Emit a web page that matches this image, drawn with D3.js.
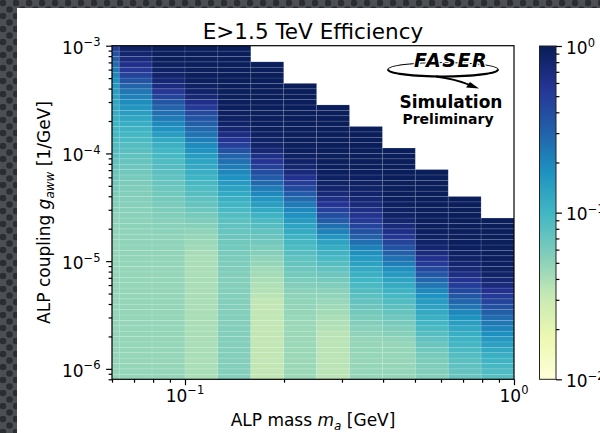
<!DOCTYPE html>
<html>
<head>
<meta charset="utf-8">
<script src="https://cdn.jsdelivr.net/npm/d3@7"></script>
<style>
  body { margin: 0; background: #45484d; }
  svg { display: block; }
  text { font-family: "DejaVu Sans", sans-serif; fill: #000; }
</style>
</head>
<body>
<svg id="chart" width="600" height="433"></svg>
<script>
// mass bin edges [GeV]
var massEdges = [0.0501, 0.0631, 0.0794, 0.1, 0.1259, 0.1585, 0.1995, 0.2512, 0.3162, 0.3981, 0.5012, 0.631, 0.7943, 1.0];
// log10 of coupling bin edges [1/GeV]
var logCouplingEdges = [-6.1, -6.05, -6.0, -5.95, -5.9, -5.85, -5.8, -5.75, -5.7, -5.65,
  -5.6, -5.55, -5.5, -5.45, -5.4, -5.35, -5.3, -5.25, -5.2, -5.15,
  -5.1, -5.05, -5.0, -4.95, -4.9, -4.85, -4.8, -4.75, -4.7, -4.65,
  -4.6, -4.55, -4.5, -4.45, -4.4, -4.35, -4.3, -4.25, -4.2, -4.15,
  -4.1, -4.05, -4.0, -3.95, -3.9, -3.85, -3.8, -3.75, -3.7, -3.65,
  -3.6, -3.55, -3.5, -3.45, -3.4, -3.35, -3.3, -3.25, -3.2, -3.15,
  -3.1, -3.05, -3.0];

// efficiency per mass bin, from the lowest coupling row upward (empty bins left out)
var eff0 = [0.048,0.048,0.048,0.048,0.048,0.048,0.048,0.048,0.048,0.048,
  0.048,0.048,0.048,0.048,0.048,0.048,0.048,0.048,0.048,0.048,
  0.048,0.048,0.048,0.048,0.048,0.048,0.05,0.05,0.05,0.05,
  0.05,0.053,0.055,0.056,0.058,0.06,0.063,0.066,0.069,0.072,
  0.075,0.079,0.083,0.087,0.091,0.095,0.10,0.105,0.11,0.118,
  0.125,0.13,0.14,0.15,0.16,0.175,0.2,0.23,0.27,0.32,
  0.38,0.47];
var eff1 = [0.047,0.047,0.047,0.047,0.047,0.047,0.047,0.047,0.047,0.047,
  0.047,0.047,0.047,0.047,0.047,0.047,0.047,0.047,0.047,0.047,
  0.047,0.048,0.048,0.049,0.049,0.05,0.05,0.05,0.051,0.051,
  0.052,0.052,0.053,0.054,0.055,0.056,0.058,0.06,0.063,0.066,
  0.07,0.074,0.079,0.084,0.09,0.097,0.105,0.115,0.13,0.145,
  0.165,0.185,0.21,0.245,0.3,0.36,0.45,0.53,0.62,0.7,
  0.82,0.9];
var eff2 = [0.047,0.047,0.047,0.047,0.047,0.047,0.047,0.047,0.047,0.047,
  0.047,0.047,0.047,0.047,0.047,0.047,0.047,0.047,0.047,0.047,
  0.047,0.048,0.048,0.049,0.049,0.05,0.05,0.051,0.052,0.053,
  0.055,0.057,0.059,0.061,0.064,0.067,0.07,0.074,0.078,0.083,
  0.088,0.094,0.10,0.11,0.125,0.15,0.175,0.2,0.23,0.26,
  0.3,0.35,0.45,0.55,0.68,0.76,0.83,0.88,0.92,0.95,
  0.96,0.97];
var eff3 = [0.04,0.04,0.04,0.04,0.04,0.04,0.04,0.04,0.04,0.04,
  0.04,0.04,0.04,0.04,0.04,0.04,0.04,0.04,0.04,0.04,
  0.04,0.04,0.04,0.041,0.043,0.045,0.047,0.05,0.053,0.057,
  0.061,0.066,0.071,0.076,0.082,0.088,0.095,0.103,0.112,0.122,
  0.135,0.15,0.17,0.19,0.22,0.25,0.28,0.32,0.37,0.42,
  0.52,0.62,0.75,0.85,0.9,0.92,0.94,0.95,0.96,0.96,
  0.97,0.97];
var eff4 = [0.054,0.054,0.054,0.054,0.054,0.054,0.054,0.054,0.054,0.054,
  0.054,0.054,0.054,0.054,0.054,0.054,0.054,0.054,0.054,0.055,
  0.056,0.057,0.058,0.06,0.062,0.064,0.067,0.07,0.074,0.078,
  0.084,0.092,0.1,0.11,0.123,0.138,0.155,0.175,0.2,0.225,
  0.26,0.3,0.38,0.48,0.58,0.68,0.78,0.86,0.9,0.92,
  0.94,0.95,0.96,0.96,0.97,0.97,0.98,0.98,0.98,0.98,
  0.98,0.98];
var eff5 = [0.033,0.033,0.033,0.033,0.033,0.033,0.033,0.033,0.033,0.033,
  0.033,0.033,0.033,0.033,0.033,0.035,0.037,0.038,0.04,0.042,
  0.044,0.047,0.05,0.054,0.058,0.063,0.068,0.074,0.082,0.09,
  0.105,0.125,0.145,0.165,0.2,0.23,0.28,0.33,0.4,0.47,
  0.56,0.64,0.76,0.84,0.88,0.91,0.93,0.94,0.95,0.96,
  0.96,0.97,0.97,0.97,0.98,0.98,0.98,0.98,0.98];
var eff6 = [0.045,0.045,0.045,0.045,0.045,0.045,0.045,0.045,0.045,0.045,
  0.045,0.046,0.047,0.048,0.049,0.05,0.052,0.055,0.058,0.062,
  0.066,0.071,0.076,0.082,0.088,0.096,0.105,0.12,0.135,0.155,
  0.175,0.2,0.23,0.28,0.33,0.42,0.5,0.6,0.72,0.8,
  0.86,0.9,0.92,0.94,0.95,0.96,0.96,0.97,0.97,0.97,
  0.98,0.98,0.98,0.98,0.98];
var eff7 = [0.035,0.035,0.035,0.035,0.035,0.035,0.035,0.035,0.035,0.037,
  0.038,0.04,0.042,0.044,0.046,0.049,0.052,0.056,0.061,0.067,
  0.074,0.082,0.092,0.104,0.117,0.135,0.165,0.21,0.26,0.33,
  0.4,0.48,0.56,0.64,0.74,0.82,0.87,0.9,0.92,0.94,
  0.95,0.96,0.96,0.97,0.97,0.97,0.98,0.98,0.98,0.98,
  0.98];
var eff8 = [0.047,0.047,0.047,0.047,0.047,0.047,0.047,0.047,0.05,0.052,
  0.055,0.058,0.062,0.067,0.072,0.078,0.085,0.092,0.1,0.11,
  0.122,0.138,0.158,0.18,0.21,0.26,0.31,0.38,0.45,0.52,
  0.58,0.66,0.72,0.78,0.83,0.87,0.9,0.92,0.94,0.95,
  0.96,0.96,0.97,0.97,0.97,0.98,0.98];
var eff9 = [0.047,0.047,0.047,0.047,0.047,0.047,0.047,0.05,0.053,0.056,
  0.06,0.065,0.071,0.078,0.086,0.095,0.105,0.118,0.135,0.155,
  0.18,0.22,0.26,0.31,0.37,0.46,0.54,0.64,0.72,0.8,
  0.86,0.9,0.92,0.94,0.95,0.96,0.96,0.97,0.97,0.97,
  0.98,0.98,0.98];
var eff10 = [0.054,0.055,0.056,0.058,0.06,0.064,0.069,0.075,0.082,0.09,
  0.1,0.11,0.122,0.136,0.152,0.175,0.2,0.24,0.29,0.35,
  0.42,0.52,0.6,0.7,0.8,0.86,0.9,0.92,0.94,0.95,
  0.96,0.96,0.97,0.97,0.97,0.98,0.98,0.98,0.98];
var eff11 = [0.07,0.072,0.075,0.079,0.084,0.09,0.097,0.105,0.115,0.128,
  0.145,0.17,0.2,0.24,0.29,0.35,0.42,0.5,0.58,0.66,
  0.74,0.81,0.86,0.9,0.92,0.94,0.95,0.96,0.96,0.97,
  0.97,0.97,0.98,0.98];
var eff12 = [0.082,0.088,0.095,0.103,0.112,0.125,0.14,0.16,0.18,0.205,
  0.235,0.27,0.32,0.38,0.45,0.52,0.6,0.7,0.78,0.85,
  0.89,0.92,0.94,0.95,0.96,0.96,0.97,0.97,0.98,0.98];
var effByMass = [eff0, eff1, eff2, eff3, eff4, eff5, eff6, eff7, eff8, eff9, eff10, eff11, eff12];

var ylgnbu = ["#ffffd9", "#edf8b1", "#c7e9b4", "#7fcdbb", "#41b6c4", "#1d91c0", "#225ea8", "#253494", "#081d58"];

var svg = d3.select("#chart");
var plot = {left: 112, right: 514, top: 45.7, bottom: 379.3};
var cbar = {left: 539.5, right: 556, top: 46, bottom: 379.3};

var x = d3.scaleLog().domain([0.06, 1]).range([plot.left, plot.right]);
var y = d3.scaleLog().domain([8e-7, 1e-3]).range([plot.bottom, plot.top]);
var cy = d3.scaleLog().domain([0.01, 1]).range([cbar.bottom, cbar.top]);
var norm = d3.scaleLog().domain([0.01, 1]).range([0, 1]).clamp(true);
var cmap = d3.scaleLinear().domain(ylgnbu.map(function(c, i){ return i / 8; })).range(ylgnbu).interpolate(d3.interpolateRgb);
var color = function(v){ return cmap(norm(v)); };

var defs = svg.append("defs");
var pat = defs.append("pattern").attr("id", "dots").attr("width", 13).attr("height", 13).attr("patternUnits", "userSpaceOnUse");
pat.append("rect").attr("width", 13).attr("height", 13).attr("fill", "#4c4f54");
pat.append("circle").attr("cx", 3).attr("cy", 3).attr("r", 3.3).attr("fill", "#2b2d31");
pat.append("circle").attr("cx", 9.5).attr("cy", 9.5).attr("r", 3.3).attr("fill", "#2b2d31");
defs.append("clipPath").attr("id", "plotclip").append("rect")
  .attr("x", plot.left).attr("y", plot.top)
  .attr("width", plot.right - plot.left).attr("height", plot.bottom - plot.top);

svg.append("rect").attr("width", 600).attr("height", 433).attr("fill", "url(#dots)");
svg.append("rect").attr("x", 17).attr("y", 8).attr("width", 583).attr("height", 425).attr("fill", "#fff");

// heat map cells
var cells = [];
effByMass.forEach(function(col, i){
  col.forEach(function(v, j){
    cells.push({m0: massEdges[i], m1: massEdges[i + 1],
      g0: Math.pow(10, logCouplingEdges[j]), g1: Math.pow(10, logCouplingEdges[j + 1]), v: v});
  });
});
svg.append("g").attr("clip-path", "url(#plotclip)")
  .selectAll("rect").data(cells).enter().append("rect")
  .attr("x", function(d){ return x(d.m0); })
  .attr("y", function(d){ return y(d.g1); })
  .attr("width", function(d){ return x(d.m1) - x(d.m0); })
  .attr("height", function(d){ return y(d.g0) - y(d.g1); })
  .attr("fill", function(d){ return color(d.v); })
  .attr("stroke", "#fff").attr("stroke-opacity", 0.13).attr("stroke-width", 0.8);

function isMajor(v){ return Math.abs(Math.log10(v) - Math.round(Math.log10(v))) < 1e-6; }
function expText(v){ var e = Math.round(Math.log10(v)); return e < 0 ? "\u2212" + (-e) : String(e); }
function sciLabel(sel, v){
  sel.append("tspan").text("10");
  sel.append("tspan").attr("dy", -7.3).attr("font-size", 11.5).text(expText(v));
}
function drawTicks(axisFn, scale, ticks, transform){
  var minor = ticks.filter(function(v){ return !isMajor(v); });
  var major = ticks.filter(isMajor);
  [[minor, 3.4], [major, 5.9]].forEach(function(p){
    var g = svg.append("g").attr("transform", transform)
      .call(axisFn(scale).tickValues(p[0]).tickSize(p[1]).tickFormat(""));
    g.select(".domain").remove();
    g.selectAll("line").attr("stroke", "#000").attr("stroke-width", 1.2);
  });
  return major;
}

// x axis
var xMajor = drawTicks(d3.axisBottom, x, x.ticks(), "translate(0," + plot.bottom + ")");
xMajor.forEach(function(v){
  var t = svg.append("text").attr("x", x(v)).attr("y", 401.7).attr("font-size", 17).attr("text-anchor", "middle");
  sciLabel(t, v);
});
// y axis
var yMajor = drawTicks(d3.axisLeft, y, y.ticks(), "translate(" + plot.left + ",0)");
yMajor.forEach(function(v){
  var t = svg.append("text").attr("x", 100.5).attr("y", y(v) + 7.8).attr("font-size", 17).attr("text-anchor", "end");
  sciLabel(t, v);
});

svg.append("rect").attr("x", plot.left).attr("y", plot.top)
  .attr("width", plot.right - plot.left).attr("height", plot.bottom - plot.top)
  .attr("fill", "none").attr("stroke", "#000").attr("stroke-width", 1.2);

// titles
svg.append("text").attr("x", (plot.left + plot.right) / 2).attr("y", 38.5)
  .attr("font-size", 21.5).attr("text-anchor", "middle").text("E>1.5 TeV Efficiency");

var xl = svg.append("text").attr("x", (plot.left + plot.right) / 2).attr("y", 426)
  .attr("font-size", 17).attr("text-anchor", "middle");
xl.append("tspan").text("ALP mass ");
xl.append("tspan").attr("font-style", "italic").text("m");
xl.append("tspan").attr("font-style", "italic").attr("font-size", 12).attr("dy", 3.5).text("a");
xl.append("tspan").attr("dy", -3.5).text(" [GeV]");

var yl = svg.append("text").attr("transform", "translate(50," + ((plot.top + plot.bottom) / 2) + ") rotate(-90)")
  .attr("font-size", 17).attr("text-anchor", "middle");
yl.append("tspan").text("ALP coupling ");
yl.append("tspan").attr("font-style", "italic").text("g");
yl.append("tspan").attr("font-style", "italic").attr("font-size", 12).attr("dy", 3.5).text("aww");
yl.append("tspan").attr("dy", -3.5).text(" [1/GeV]");

// colour bar
var grad = defs.append("linearGradient").attr("id", "cbgrad").attr("x1", 0).attr("x2", 0).attr("y1", 1).attr("y2", 0);
d3.range(0, 1.0001, 0.02).forEach(function(t){
  grad.append("stop").attr("offset", t).attr("stop-color", cmap(t));
});
svg.append("rect").attr("x", cbar.left).attr("y", cbar.top)
  .attr("width", cbar.right - cbar.left).attr("height", cbar.bottom - cbar.top)
  .attr("fill", "url(#cbgrad)").attr("stroke", "#222").attr("stroke-width", 1);
var cMajor = drawTicks(d3.axisRight, cy, cy.ticks(), "translate(" + cbar.right + ",0)");
cMajor.forEach(function(v){
  var t = svg.append("text").attr("x", 566).attr("y", cy(v) + 7.8).attr("font-size", 17);
  sciLabel(t, v);
});

// FASER logo
var logo = svg.append("g");
logo.append("ellipse").attr("cx", 443).attr("cy", 69.5).attr("rx", 55).attr("ry", 7)
  .attr("fill", "none").attr("stroke", "#000").attr("stroke-width", 1.1);
logo.append("path").attr("d", "M388,69.5 A55,7 0 0,0 498,69.5")
  .attr("fill", "none").attr("stroke", "#000").attr("stroke-width", 2.2);
logo.append("path").attr("d", "M436,76.5 Q455,79 470,85")
  .attr("fill", "none").attr("stroke", "#000").attr("stroke-width", 1.8);
logo.append("path").attr("d", "M479,88.5 L466,87.5 L470,82 Z").attr("fill", "#000");
logo.append("text").attr("x", 451).attr("y", 67).attr("font-size", 19).attr("font-weight", "bold")
  .attr("font-style", "italic").attr("letter-spacing", 1.5).attr("text-anchor", "middle")
  .attr("stroke", "#fff").attr("stroke-width", 2.5).attr("paint-order", "stroke").text("FASER");
logo.append("text").attr("x", 451).attr("y", 107.5).attr("font-size", 17).attr("font-weight", "bold")
  .attr("text-anchor", "middle").text("Simulation");
logo.append("text").attr("x", 448).attr("y", 124).attr("font-size", 14).attr("font-weight", "bold")
  .attr("text-anchor", "middle").text("Preliminary");
</script>
</body>
</html>
